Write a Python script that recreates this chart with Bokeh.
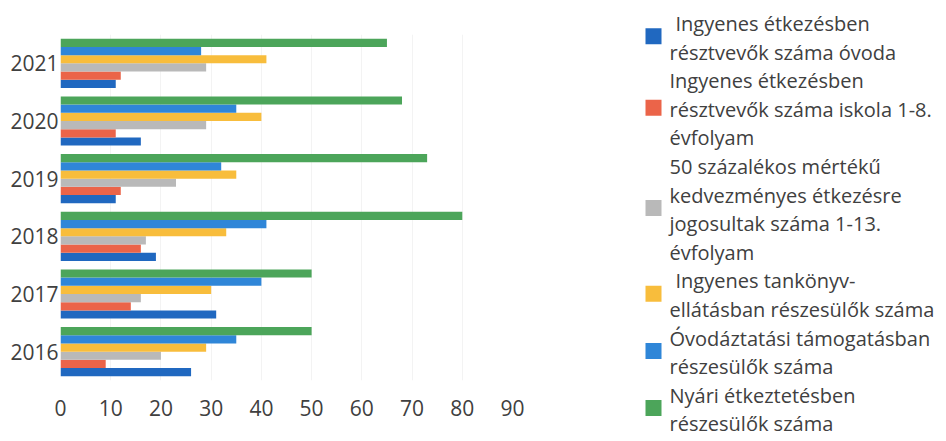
from bokeh.plotting import figure
from bokeh.models import Range1d, FactorRange, ColumnDataSource, FixedTicker
from bokeh.transform import dodge
from bokeh.layouts import row
from bokeh.core.properties import value
from bokeh.embed import file_html
from bokeh.resources import INLINE

years = ["2016", "2017", "2018", "2019", "2020", "2021"]

ovoda = [26, 31, 19, 11, 16, 11]
iskola = [9, 14, 16, 12, 11, 12]
kedvezmenyes = [20, 16, 17, 23, 29, 29]
tankonyv = [29, 30, 33, 35, 40, 41]
ovodaztatasi = [35, 40, 41, 32, 35, 28]
nyari = [50, 50, 80, 73, 68, 65]

x_ticks = [0, 10, 20, 30, 40, 50, 60, 70, 80, 90]

series = [ovoda, iskola, kedvezmenyes, tankonyv, ovodaztatasi, nyari]
colors = ["#2068C0", "#EB6449", "#B9B9B9", "#F8BD3C", "#2F86D8", "#4CA55A"]
legend_lines = [
    [" Ingyenes étkezésben", "résztvevők száma óvoda"],
    ["Ingyenes étkezésben", "résztvevők száma iskola 1-8.", "évfolyam"],
    ["50 százalékos mértékű", "kedvezményes étkezésre", "jogosultak száma 1-13.", "évfolyam"],
    [" Ingyenes tankönyv-", "ellátásban részesülők száma"],
    ["Óvodáztatási támogatásban", "részesülők száma"],
    ["Nyári étkeztetésben", "részesülők száma"],
]

FONT = "Open Sans"
TXT = "#404040"

p = figure(frame_width=452, frame_height=346, y_range=FactorRange(*years), x_range=Range1d(0, 90),
           output_backend="svg", toolbar_location=None,
           min_border_left=60, min_border_right=93, min_border_top=34, min_border_bottom=44)
p.outline_line_color = None
p.frame_align = False

data = {"year": years}
for i, s in enumerate(series):
    data["s%d" % i] = s
src = ColumnDataSource(data)

bh = 0.142
for i, s in enumerate(series):
    off = (i - 2.5) * bh
    p.hbar(y=dodge("year", off, range=p.y_range), right="s%d" % i, left=0, height=bh,
           color=colors[i], line_color=None, source=src)

p.xaxis.ticker = FixedTicker(ticks=x_ticks)
for ax in (p.xaxis, p.yaxis):
    ax.axis_line_color = None
    ax.major_tick_line_color = None
    ax.minor_tick_line_color = None
    ax.major_tick_out = 0
    ax.major_tick_in = 0
    ax.minor_tick_out = 0
    ax.major_label_text_font = FONT
    ax.major_label_text_font_size = "21px"
    ax.major_label_text_color = TXT
p.yaxis.major_label_standoff = 2
p.xaxis.major_label_standoff = 19
p.xgrid.grid_line_color = "#F3F3F3"
p.ygrid.grid_line_color = None

# legend as its own panel
LH = 437
lg = figure(frame_width=332, frame_height=LH, x_range=Range1d(0, 332), y_range=Range1d(LH, 0),
            output_backend="svg", toolbar_location=None,
            min_border=0, min_border_left=0, min_border_right=0, min_border_top=0, min_border_bottom=0)
lg.outline_line_color = None
lg.axis.visible = False
lg.grid.visible = False
lg.frame_align = False

tx, txx, ty, sy = [], [], [], []
k = 0
y0, step = 23, 28.6
for lines in legend_lines:
    ys = []
    for ln in lines:
        yy = y0 + step * k
        indent = 6 if ln.startswith(" ") else 0
        tx.append(ln.strip())
        txx.append(64 + indent)
        ty.append(yy)
        ys.append(yy)
        k += 1
    sy.append(sum(ys) / len(ys) - 1.5)

lg.text(x=txx, y=ty, text=tx, text_font=value(FONT), text_font_size="20px",
        text_color=TXT, text_baseline="middle", text_align="left")
lg.rect(x=[48] * len(sy), y=sy, width=16, height=16, color=colors, line_color=None)

layout = row(p, lg)
open("out.html", "w").write(file_html(layout, INLINE))
